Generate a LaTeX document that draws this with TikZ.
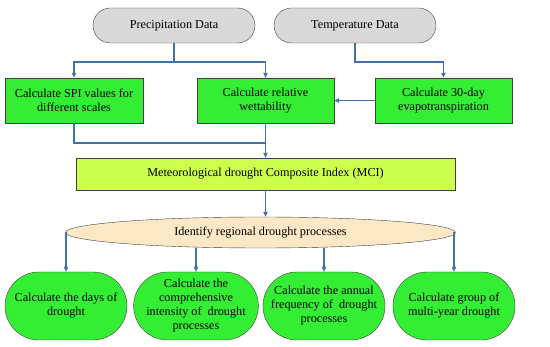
\documentclass[tikz,border=0pt]{standalone}
\usepackage{fontspec}
\setmainfont{Liberation Serif}
\usetikzlibrary{arrows.meta,shapes.misc,shapes.geometric}
\definecolor{datagray}{HTML}{D9D9D9}
\definecolor{calcgreen}{HTML}{33EE33}
\definecolor{mcigreen}{HTML}{CCFF4D}
\definecolor{ellpeach}{HTML}{FCE8C4}
\definecolor{linkblue}{HTML}{4272A6}
\begin{document}
\begin{tikzpicture}[
  x=1pt, y=-1pt,
  txt/.style={font=\fontsize{12.2}{14}\selectfont},
  datbox/.style={txt, draw=black!75, fill=datagray, rounded rectangle, inner sep=0pt,
                 minimum width=162pt, minimum height=35pt},
  calbox/.style={txt, draw=black!75, fill=calcgreen, inner sep=0pt, align=center,
                 minimum width=137pt, minimum height=45pt},
  resbox/.style={txt, draw=black!75, fill=calcgreen, rounded rectangle, inner sep=0pt, align=center,
                 minimum width=122pt, minimum height=68pt},
  line/.style={draw=linkblue, line width=1.4pt},
  arr/.style={line, -{Triangle[length=5pt,width=4.5pt]}}
]
\useasboundingbox (0,0) rectangle (550,347);
% Input data
\node[datbox] (pre) at (174,25.5) {Precipitation Data};
\node[datbox] (tmp) at (355,25.5) {Temperature Data};
% Calculation boxes
\node[calbox, minimum width=138pt] (spi) at (74,100.5) {Calculate SPI values for\\different scales};
\node[calbox] (rel) at (265.5,100.5) {Calculate relative\\wettability};
\node[calbox] (evp) at (443.5,100.5) {Calculate 30-day\\evapotranspiration};
% Composite index
\node[txt, draw=black!75, fill=mcigreen, minimum width=379pt, minimum height=32pt, inner sep=0pt]
  (mci) at (265.5,174) {Meteorological drought Composite Index (MCI)};
% Drought processes
\node[txt, draw=black!75, fill=ellpeach, ellipse, minimum width=390pt, minimum height=31pt, inner sep=0pt]
  (ell) at (260.5,232.5) {Identify regional drought processes};
% Results
\node[resbox] (d1) at (66,306) {Calculate the days of\\drought};
\node[resbox] (d2) at (196,306) {Calculate the\\comprehensive\\intensity of\ \ drought\\processes};
\node[resbox] (d3) at (324,306) {Calculate the annual\\frequency of\ \ drought\\processes};
\node[resbox] (d4) at (454,306) {Calculate group of\\multi-year drought};

% Junctions
\coordinate (pj) at (174,62);
\coordinate (tj) at (355,62);
\coordinate (mj) at (265.5,143);

\draw[line] (pre.south) -- (pj);
\draw[arr] (pj) -| (spi.north);
\draw[arr] (pj) -| (rel.north);
\draw[arr] (tmp.south) -- (tj) -| (evp.north);
\draw[arr] (evp.west) -- (rel.east);
\draw[line] (spi.south) |- (mj);
\draw[arr] (rel.south) -- (mci.north);
\draw[arr] (mci.south) -- (mci.south |- ell.north);
\draw[arr] (d1 |- ell.west) -- (d1.north);
\draw[arr] (d2 |- ell.south) -- (d2.north);
\draw[arr] (d3 |- ell.south) -- (d3.north);
\draw[arr] (d4 |- ell.east) -- (d4.north);
\end{tikzpicture}
\end{document}
